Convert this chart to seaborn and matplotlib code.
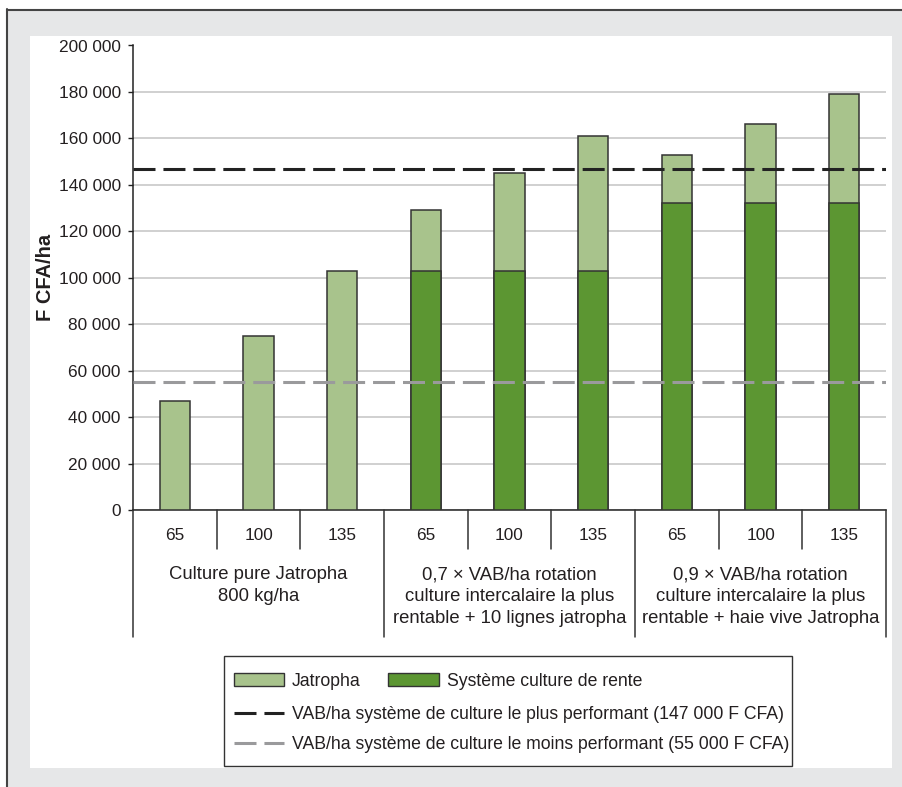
import numpy as np
import pandas as pd
import matplotlib
matplotlib.use("Agg")
import matplotlib.pyplot as plt
import matplotlib.transforms as mtransforms
from matplotlib.patches import Rectangle, Patch
from matplotlib.lines import Line2D
from matplotlib.ticker import FuncFormatter, MultipleLocator
import seaborn as sns

# ---- data -------------------------------------------------------------
groups = [
    "Culture pure Jatropha\n800 kg/ha",
    "0,7 × VAB/ha rotation\nculture intercalaire la plus\nrentable + 10 lignes jatropha",
    "0,9 × VAB/ha rotation\nculture intercalaire la plus\nrentable + haie vive Jatropha",
]
doses = ["65", "100", "135"]
jatropha = [47000, 75000, 103000, 26000, 42000, 58000, 21000, 34000, 47000]
rente = [0, 0, 0, 103000, 103000, 103000, 132000, 132000, 132000]
vab_max = 147000
vab_min = 55000
legend_labels = [
    "Jatropha",
    "Système culture de rente",
    "VAB/ha système de culture le plus performant (147 000 F CFA)",
    "VAB/ha système de culture le moins performant (55 000 F CFA)",
]
y_label = "F CFA/ha"

# ---- style ------------------------------------------------------------
sns.set_theme(style="white")
plt.rcParams["font.family"] = ["Liberation Sans", "DejaVu Sans"]
TXT = "#231f20"
LIGHT = "#a8c38c"
DARK = "#5c9632"
EDGE = "#333333"
FS = 12.4
FS_GROUP = 13.3
FS_LEG = 12.7

W, H = 902, 787
fig = plt.figure(figsize=(W / 100, H / 100), dpi=100)
fig.patch.set_facecolor("white")


def fx(x):
    return x / W


def fy(y):
    return 1 - y / H


# page frame: grey band, dark top/left rule, white panel
fig.add_artist(Rectangle((fx(7), 0), 1 - fx(7), fy(9), transform=fig.transFigure,
                         facecolor="#e6e7e8", edgecolor="none", zorder=-10))
fig.add_artist(Rectangle((fx(30), fy(768)), fx(892) - fx(30), fy(36) - fy(768),
                         transform=fig.transFigure, facecolor="white",
                         edgecolor="none", zorder=-9))
fig.add_artist(Line2D([fx(7), 1], [fy(9.5), fy(9.5)], transform=fig.transFigure,
                      color="#444444", lw=1.5, zorder=-8))
fig.add_artist(Line2D([fx(7.5), fx(7.5)], [0, fy(9)], transform=fig.transFigure,
                      color="#444444", lw=1.5, zorder=-8))

# ---- axes -------------------------------------------------------------
ax_l, ax_r, ax_t, ax_b = 133, 886, 45.5, 510
ax = fig.add_axes([fx(ax_l), fy(ax_b), fx(ax_r) - fx(ax_l), fy(ax_t) - fy(ax_b)])
ax.set_facecolor("none")

keys = [f"{g}|{d}" for g in range(len(groups)) for d in doses]
df = pd.DataFrame({
    "key": keys,
    "dose": doses * len(groups),
    "jatropha": jatropha,
    "rente": rente,
})
df["total"] = df["jatropha"] + df["rente"]

bar_kw = dict(order=keys, width=0.366, saturation=1, errorbar=None,
              edgecolor=EDGE, linewidth=1.1, ax=ax, zorder=3)
sns.barplot(data=df, x="key", y="total", color=LIGHT, **bar_kw)
sns.barplot(data=df[df["rente"] > 0], x="key", y="rente", color=DARK, **bar_kw)

ax.set_xlim(-0.5, len(keys) - 0.5)
ax.set_ylim(0, 200000)
ax.yaxis.set_major_locator(MultipleLocator(20000))
ax.yaxis.set_major_formatter(FuncFormatter(lambda v, p: f"{int(v):,}".replace(",", " ")))
ax.grid(axis="y", color="#c8c8c8", lw=1.2, zorder=0)
ax.grid(axis="x", visible=False)
ax.set_axisbelow(True)

for s in ("top", "right"):
    ax.spines[s].set_visible(False)
for s in ("left", "bottom"):
    ax.spines[s].set_color("#222222")
    ax.spines[s].set_linewidth(1.1)

ax.tick_params(axis="y", which="major", left=True, length=3.6, width=1.0,
               color="#222222", pad=5.3, labelsize=FS, labelcolor=TXT)
ax.set_xticks(range(len(keys)))
ax.set_xticklabels(df["dose"])
ax.tick_params(axis="x", length=0, pad=13, labelsize=FS, labelcolor=TXT)
ax.set_xlabel("")
ax.set_ylabel(y_label, fontsize=14.5, fontweight="bold", color=TXT)
ax.yaxis.set_label_coords((55 - ax_l) / (ax_r - ax_l), 0.5)

# reference lines
dash = (7.2, 2.6)
ax.axhline(vab_max, color="#222222", lw=2.2, dashes=dash, zorder=4)
ax.axhline(vab_min, color="#9a9a9c", lw=2.2, dashes=dash, zorder=4)

# category table under the axis
hpx = ax_b - ax_t
trans = mtransforms.blended_transform_factory(ax.transData, ax.transAxes)
short = -(549 - ax_b) / hpx
long_ = -(637 - ax_b) / hpx
for i in range(len(keys) + 1):
    x = i - 0.5
    yb = long_ if i % 3 == 0 else short
    ax.plot([x, x], [0, yb], transform=trans, color="#333333", lw=1.1,
            clip_on=False, zorder=5)
for g, label in enumerate(groups):
    ax.text(3 * g + 1, -(566 - ax_b) / hpx, label, transform=trans, ha="center",
            va="top", multialignment="center", fontsize=FS_GROUP, color=TXT,
            linespacing=1.38)

# ---- legend -----------------------------------------------------------
fig.add_artist(Rectangle((fx(224), fy(766)), fx(792) - fx(224), fy(656) - fy(766),
                         transform=fig.transFigure, facecolor="white",
                         edgecolor="#333333", lw=1.0, zorder=1))
leg_common = dict(frameon=False, fontsize=FS_LEG, handlelength=2.85, handletextpad=0.45,
                  borderpad=0, borderaxespad=0, loc="upper left",
                  bbox_transform=fig.transFigure, labelcolor=TXT)
bars_handles = [Patch(facecolor=LIGHT, edgecolor=EDGE, lw=1.0),
                Patch(facecolor=DARK, edgecolor=EDGE, lw=1.0)]
leg1 = fig.legend(bars_handles, legend_labels[:2], ncol=2, columnspacing=1.55,
                  handleheight=0.75, bbox_to_anchor=(fx(234), fy(673)), **leg_common)
line_handles = [Line2D([], [], color="#222222", lw=2.2, dashes=dash),
                Line2D([], [], color="#9a9a9c", lw=2.2, dashes=dash)]
leg2 = fig.legend(line_handles, legend_labels[2:], labelspacing=0.76,
                  bbox_to_anchor=(fx(234), fy(706)), **leg_common)
leg1.set_zorder(2)
leg2.set_zorder(2)

fig.savefig("out.png", dpi=100)
